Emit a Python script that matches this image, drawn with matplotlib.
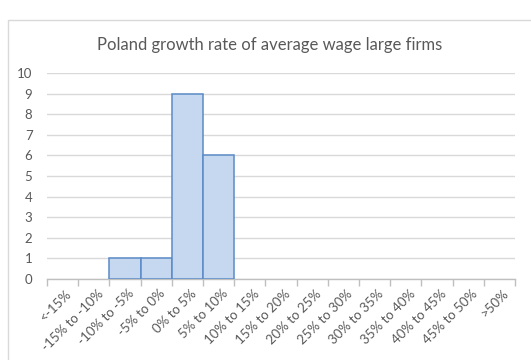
import matplotlib
matplotlib.use("Agg")
import matplotlib.pyplot as plt
from matplotlib.patches import Rectangle
from matplotlib.transforms import ScaledTranslation

categories = ["<-15%", "-15% to -10%", "-10% to -5%", "-5% to 0%", "0% to 5%",
              "5% to 10%", "10% to 15%", "15% to 20%", "20% to 25%", "25% to 30%",
              "30% to 35%", "35% to 40%", "40% to 45%", "45% to 50%", ">50%"]
counts = [0, 0, 1, 1, 9, 6, 0, 0, 0, 0, 0, 0, 0, 0, 0]
yticks = list(range(0, 11))
title = "Poland growth rate of average wage large firms"

plt.rcParams['font.family'] = ['Lato', 'DejaVu Sans']
text_color = "#595959"

fig = plt.figure(figsize=(5.31, 3.6), dpi=100)
fig.patch.set_facecolor("white")

# outer chart frame
fig.patches.append(Rectangle((8 / 531, -0.1), 1.2, 1 - 20 / 360 + 0.1,
                             transform=fig.transFigure, fill=False,
                             edgecolor="#D9D9D9", linewidth=1.0))

ax = fig.add_axes([47 / 531, 1 - 279 / 360, (515 - 47) / 531, (279 - 73) / 360])
x = list(range(len(categories)))
bars = ax.bar(x, counts, width=1.0, color="#C5D8EF", edgecolor="#5B8AC6",
              linewidth=1.1, zorder=3)
# empty bins carry no outline
for b, c in zip(bars, counts):
    if c == 0:
        b.set_linewidth(0)

ax.set_xlim(-0.5, len(categories) - 0.5)
ax.set_ylim(0, 10)
ax.set_yticks(yticks)
ax.set_yticklabels([str(v) for v in yticks], color=text_color, fontsize=9.5)
ax.yaxis.grid(True, color="#D9D9D9", linewidth=1.0, zorder=0)
ax.tick_params(axis="y", length=0, pad=10.5)

ax.set_xticks(x)
ax.set_xticklabels(categories, rotation=45, ha="right", va="top",
                   rotation_mode="anchor", color=text_color, fontsize=9.5)
ax.tick_params(axis="x", length=0, pad=6)
shift = ScaledTranslation(3 / 100, 0, fig.dpi_scale_trans)
for lbl in ax.get_xticklabels():
    lbl.set_transform(lbl.get_transform() + shift)
# tick marks at category boundaries
ax.set_xticks([i - 0.5 for i in range(len(categories) + 1)], minor=True)
ax.tick_params(axis="x", which="minor", length=5, color="#BFBFBF", width=1.0)

for s in ["top", "right", "left"]:
    ax.spines[s].set_visible(False)
ax.spines["bottom"].set_color("#BFBFBF")
ax.spines["bottom"].set_linewidth(1.0)

fig.text(270 / 531, 1 - 45 / 360, title, ha="center", va="center",
         fontsize=12, color=text_color)

fig.savefig("out.png", dpi=100)
